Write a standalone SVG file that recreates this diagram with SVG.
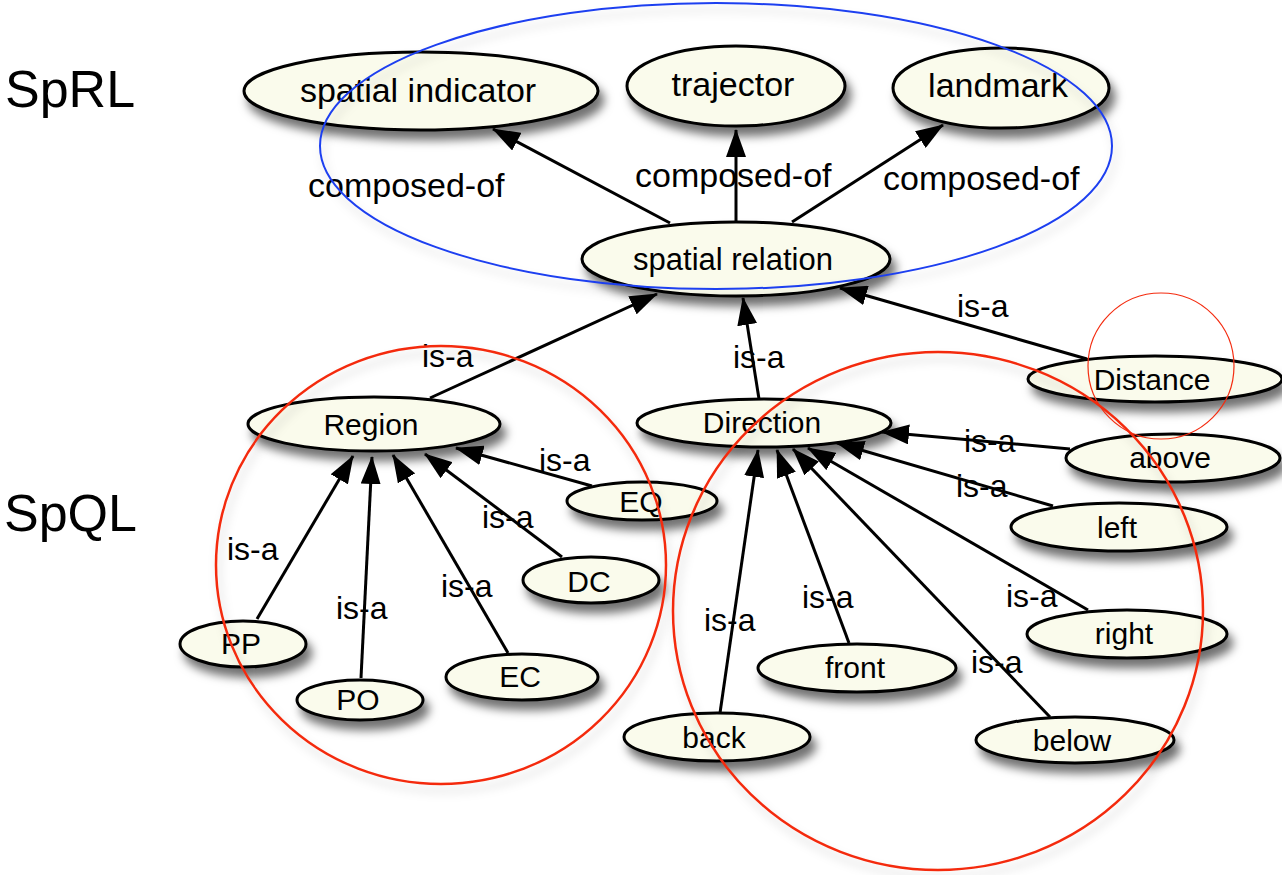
<svg xmlns="http://www.w3.org/2000/svg" width="1282" height="875" viewBox="0 0 1282 875">
  <style>
    .node ellipse { fill: #fafbec; stroke: #000; stroke-width: 3; filter: url(#shadow); }
    .node text { font-family: "Liberation Sans", Arial, Helvetica, sans-serif; font-size: 30px; fill: #000; text-anchor: middle; }
    .node.big text { font-size: 34px; }
    .node.mid text { font-size: 31px; }
    .edges path { stroke: #000; stroke-width: 3; fill: none; marker-end: url(#arrow); }
    .lbl { font-family: "Liberation Sans", Arial, Helvetica, sans-serif; font-size: 32px; fill: #000; }
    .lbl.long { font-size: 34px; }
    .layer { font-family: "Liberation Sans", Arial, Helvetica, sans-serif; font-size: 52px; fill: #000; }
    .group-blue { fill: none; stroke: #1f3ff0; stroke-width: 2; filter: url(#soft); }
    .group-red { fill: none; stroke: #f42c10; stroke-width: 2.5; filter: url(#soft); }
    .group-red-thin { fill: none; stroke: #f42c10; stroke-width: 1.2; }
  </style>
  <defs>
    <filter id="shadow" x="-20%" y="-40%" width="150%" height="200%">
      <feDropShadow dx="5" dy="9" stdDeviation="5" flood-color="#000" flood-opacity="0.55"/>
    </filter>
    <filter id="soft" x="-10%" y="-10%" width="120%" height="125%">
      <feDropShadow dx="3" dy="7" stdDeviation="5" flood-color="#000" flood-opacity="0.18"/>
    </filter>
    <marker id="arrow" markerUnits="userSpaceOnUse" markerWidth="28" markerHeight="20" refX="27" refY="10" orient="auto">
      <path d="M0,0 L28,10 L0,20 z" fill="#000"/>
    </marker>
  </defs>

  <rect width="1282" height="875" fill="#fff"/>

  <!-- layer captions -->
  <text class="layer" x="5" y="107">SpRL</text>
  <text class="layer" x="4" y="531">SpQL</text>

  <!-- connectors -->
  <g id="edges" class="edges">
    <path d="M670,223 L493,129"/>
    <path d="M736,221 L736,130"/>
    <path d="M792,222 L943,125"/>
    <path d="M430,398 L657,294"/>
    <path d="M759,399 L743,298"/>
    <path d="M1087,359 L840,288"/>
    <path d="M257,619 L353,456"/>
    <path d="M361,678 L372,457"/>
    <path d="M508,653 L393,455"/>
    <path d="M562,557 L425,454"/>
    <path d="M592,486 L456,448"/>
    <path d="M720,713 L758,450"/>
    <path d="M849,643 L777,450"/>
    <path d="M1050,717 L793,449"/>
    <path d="M1088,610 L808,448"/>
    <path d="M1053,506 L837,443"/>
    <path d="M1070,449 L882,432"/>
  </g>

  <!-- edge labels -->
  <g id="edge-labels">
    <text class="lbl long" x="308" y="197">composed-of</text>
    <text class="lbl long" x="635" y="187">composed-of</text>
    <text class="lbl long" x="883" y="190">composed-of</text>
    <text class="lbl" x="422" y="367">is-a</text>
    <text class="lbl" x="733" y="368">is-a</text>
    <text class="lbl" x="957" y="317">is-a</text>
    <text class="lbl" x="227" y="560">is-a</text>
    <text class="lbl" x="336" y="619">is-a</text>
    <text class="lbl" x="441" y="597">is-a</text>
    <text class="lbl" x="482" y="528">is-a</text>
    <text class="lbl" x="539" y="471">is-a</text>
    <text class="lbl" x="964" y="452">is-a</text>
    <text class="lbl" x="956" y="497">is-a</text>
    <text class="lbl" x="1006" y="607">is-a</text>
    <text class="lbl" x="971" y="673">is-a</text>
    <text class="lbl" x="704" y="631">is-a</text>
    <text class="lbl" x="802" y="608">is-a</text>
  </g>

  <!-- nodes -->
  <g id="spatial-indicator" class="node big"><ellipse cx="421" cy="91" rx="177" ry="39"/><text x="418" y="102">spatial indicator</text></g>
  <g id="trajector" class="node big"><ellipse cx="736" cy="86" rx="109" ry="40"/><text x="733" y="96">trajector</text></g>
  <g id="landmark" class="node big"><ellipse cx="1001" cy="88" rx="108" ry="40"/><text x="998" y="97">landmark</text></g>
  <g id="spatial-relation" class="node mid"><ellipse cx="736" cy="259" rx="154" ry="37"/><text x="733" y="270">spatial relation</text></g>
  <g id="region" class="node"><ellipse cx="374" cy="424" rx="126" ry="27"/><text x="371" y="435">Region</text></g>
  <g id="direction" class="node"><ellipse cx="764" cy="423" rx="127" ry="24"/><text x="762" y="433">Direction</text></g>
  <g id="distance" class="node"><ellipse cx="1155" cy="379" rx="127" ry="23"/><text x="1152" y="390">Distance</text></g>
  <g id="pp" class="node"><ellipse cx="243" cy="644" rx="63" ry="23"/><text x="241" y="654">PP</text></g>
  <g id="po" class="node"><ellipse cx="360" cy="700" rx="63" ry="20"/><text x="358" y="710">PO</text></g>
  <g id="ec" class="node"><ellipse cx="522" cy="677" rx="76" ry="23"/><text x="520" y="687">EC</text></g>
  <g id="dc" class="node"><ellipse cx="591" cy="580" rx="68" ry="23"/><text x="589" y="592">DC</text></g>
  <g id="eq" class="node"><ellipse cx="642" cy="501" rx="75" ry="19"/><text x="641" y="512">EQ</text></g>
  <g id="above" class="node"><ellipse cx="1173" cy="458" rx="107" ry="24"/><text x="1170" y="468">above</text></g>
  <g id="left" class="node"><ellipse cx="1119" cy="527" rx="108" ry="24"/><text x="1117" y="538">left</text></g>
  <g id="right" class="node"><ellipse cx="1127" cy="634" rx="100" ry="24"/><text x="1124" y="644">right</text></g>
  <g id="below" class="node"><ellipse cx="1075" cy="740" rx="99" ry="23"/><text x="1072" y="751">below</text></g>
  <g id="front" class="node"><ellipse cx="857" cy="668" rx="99" ry="24"/><text x="855" y="678">front</text></g>
  <g id="back" class="node"><ellipse cx="717" cy="737" rx="93" ry="24"/><text x="714" y="748">back</text></g>

  <!-- grouping outlines -->
  <g id="groups">
    <ellipse class="group-blue" cx="716" cy="146" rx="396" ry="143"/>
    <ellipse class="group-red" cx="441" cy="565" rx="225" ry="219"/>
    <ellipse class="group-red" cx="938" cy="611" rx="265" ry="259"/>
    <circle class="group-red-thin" cx="1161" cy="366" r="73"/>
  </g>
</svg>
